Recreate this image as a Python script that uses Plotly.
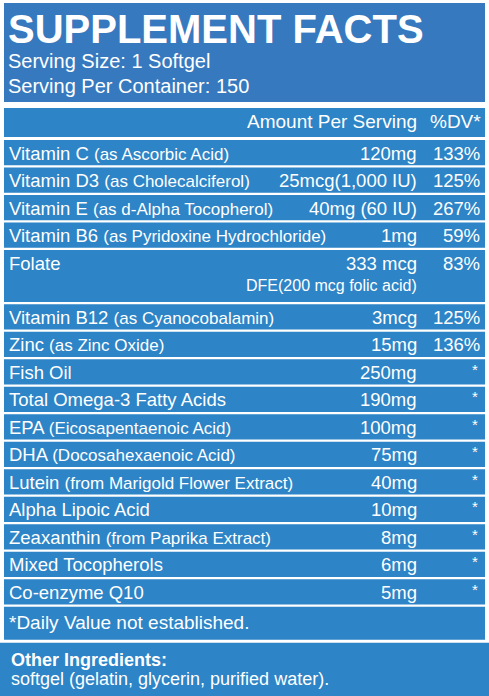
import plotly.graph_objects as go

names = ["Vitamin C", "Vitamin D3", "Vitamin E", "Vitamin B6", "Folate", "Vitamin B12", "Zinc",
         "Fish Oil", "Total Omega-3 Fatty Acids", "EPA", "DHA", "Lutein", "Alpha Lipoic Acid",
         "Zeaxanthin", "Mixed Tocopherols", "Co-enzyme Q10"]
sources = ["(as Ascorbic Acid)", "(as Cholecalciferol)", "(as d-Alpha Tocopherol)",
           "(as Pyridoxine Hydrochloride)", "", "(as Cyanocobalamin)", "(as Zinc Oxide)",
           "", "", "(Eicosapentaenoic Acid)", "(Docosahexaenoic Acid)",
           "(from Marigold Flower Extract)", "", "(from Paprika Extract)", "", ""]
amounts = ["120mg", "25mcg(1,000 IU)", "40mg (60 IU)", "1mg", "333 mcg", "3mcg", "15mg",
           "250mg", "190mg", "100mg", "75mg", "40mg", "10mg", "8mg", "6mg", "5mg"]
dv = ["133%", "125%", "267%", "59%", "83%", "125%", "136%", "*", "*", "*", "*", "*", "*", "*", "*", "*"]
notes = ["", "", "", "", "DFE(200 mcg folic acid)", "", "", "", "", "", "", "", "", "", "", ""]

BLUE = "#2d84c6"
HEAD = "#3779be"
W, H = 489, 696
FONT = "Liberation Sans, Arial, sans-serif"

shapes, ann = [], []

def rect(x0, y0, x1, y1, c):
    shapes.append(dict(type="rect", xref="x", yref="y", x0=x0, x1=x1, y0=y0, y1=y1,
                       fillcolor=c, line=dict(width=0), layer="below"))

def txt(x, y, s, size, anchor="left", bold=False):
    if bold:
        s = "<b>" + s + "</b>"
    ann.append(dict(x=x, y=y, xref="x", yref="y", text=s, showarrow=False, xanchor=anchor,
                    yanchor="middle", borderpad=0,
                    font=dict(family=FONT, size=size, color="white")))

# header
rect(4, 3, 485, 102, HEAD)
txt(7, 29, "SUPPLEMENT FACTS", 40, bold=True)
txt(7, 61, "Serving Size: 1 Softgel", 20)
txt(7, 86, "Serving Per Container: 150", 20)

# column header row
rect(4, 108, 485, 137, BLUE)
txt(418, 121, "Amount Per Serving", 19, "right")
txt(482, 121, "%DV*", 19, "right")

y = 140
for i in range(len(names)):
    h = 52 if notes[i] else 25.3
    rect(4, y, 485, y + h, BLUE)
    cy = y + 13
    label = names[i] + (" <span style='font-size:17px'>" + sources[i] + "</span>" if sources[i] else "")
    txt(8, cy, label, 18.5)
    txt(418, cy, amounts[i], 18.5, "right")
    if dv[i] == "*":
        txt(479, cy - 3, "*", 15, "right")
    else:
        txt(481, cy, dv[i], 18.5, "right")
    if notes[i]:
        txt(418, cy + 22, notes[i], 16, "right")
    y += h + 2.2

rect(4, y, 485, y + 33, BLUE)
txt(8, y + 16, "*Daily Value not established.", 19)
rect(0, y + 36, W, H, BLUE)
txt(10, y + 53, "Other Ingredients:", 18, bold=True)
txt(10, y + 72, "softgel (gelatin, glycerin, purified water).", 18)

fig = go.Figure()
fig.update_layout(width=W, height=H, margin=dict(l=0, r=0, t=0, b=0),
                  paper_bgcolor="white", plot_bgcolor="white", showlegend=False,
                  shapes=shapes, annotations=ann,
                  xaxis=dict(range=[0, W], visible=False, fixedrange=True),
                  yaxis=dict(range=[H, 0], visible=False, fixedrange=True))
fig.write_html("out.html", post_script="document.body.style.margin='0';document.body.style.overflow='hidden';",
               config={"displayModeBar": False})
